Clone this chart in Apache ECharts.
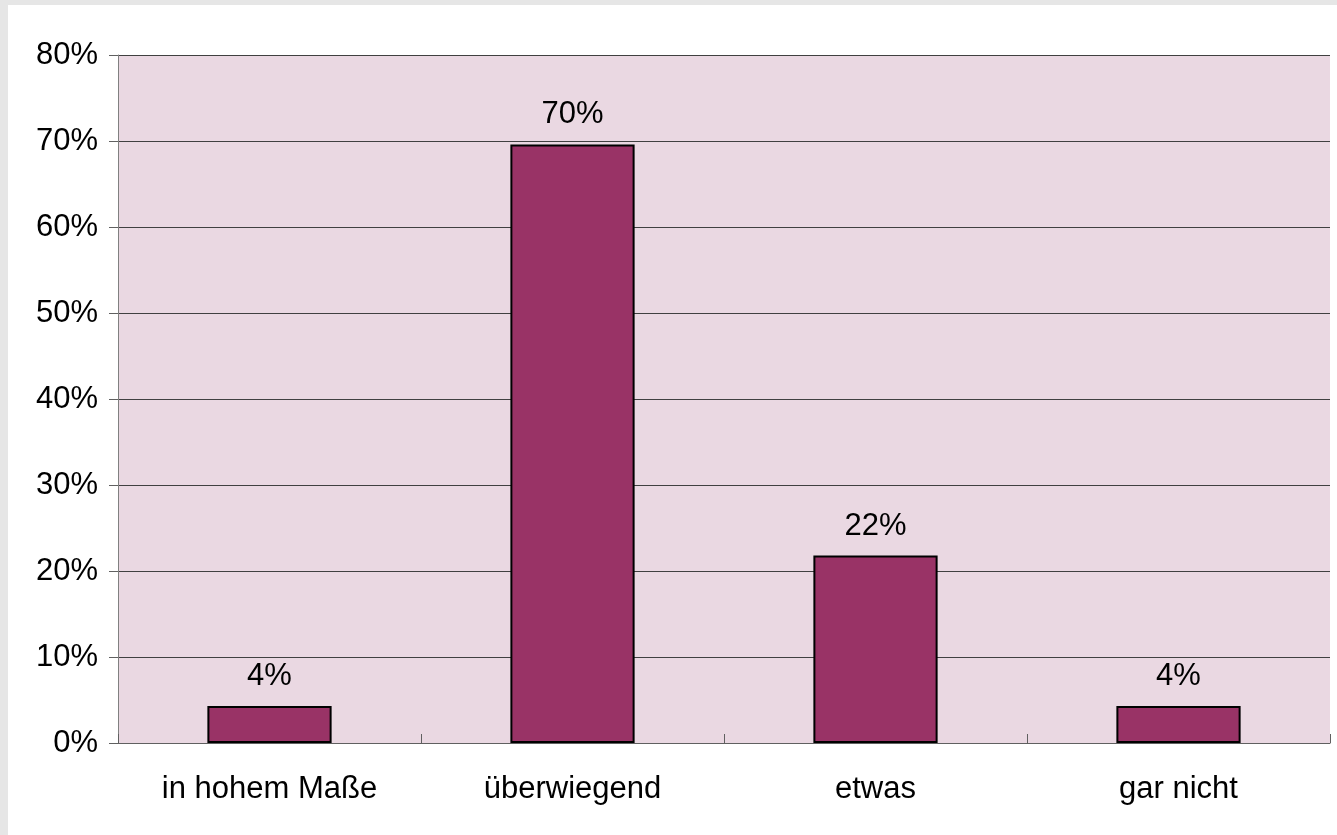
<!DOCTYPE html>
<html>
<head>
<meta charset="utf-8">
<script src="https://cdn.jsdelivr.net/npm/echarts@6/dist/echarts.min.js"></script>
<style>
html,body{margin:0;padding:0;background:#e6e6e6;width:1337px;height:835px;overflow:hidden;}
#chart{position:absolute;left:8px;top:5px;width:1329px;height:830px;background:#ffffff;}
</style>
</head>
<body>
<div id="chart"></div>
<script>
const categories = ['in hohem Maße', 'überwiegend', 'etwas', 'gar nicht'];
const values = [4.3, 69.6, 21.8, 4.3];
const yTicks = [0, 10, 20, 30, 40, 50, 60, 70, 80];

const FONT = '"Liberation Sans", Arial, sans-serif';
const chart = echarts.init(document.getElementById('chart'), null, {renderer: 'canvas'});
chart.setOption({
  animation: false,
  grid: {
    left: 110, top: 50, right: 7, bottom: 92,
    show: true, backgroundColor: '#ead8e2', borderWidth: 0
  },
  xAxis: {
    type: 'category',
    data: categories,
    axisLine: {show: true, lineStyle: {color: '#606060', width: 1}},
    axisTick: {show: true, inside: true, length: 9, alignWithLabel: false, lineStyle: {color: '#606060'}},
    axisLabel: {color: '#000', fontFamily: FONT, fontSize: 31, margin: 31},
    splitLine: {show: false}
  },
  yAxis: {
    type: 'value',
    min: yTicks[0],
    max: yTicks[yTicks.length - 1],
    interval: 10,
    axisLine: {show: true, lineStyle: {color: '#808080', width: 1}},
    axisTick: {show: true, length: 9, lineStyle: {color: '#606060'}},
    axisLabel: {color: '#000', fontFamily: FONT, fontSize: 31, margin: 20, formatter: v => v + '%'},
    splitLine: {show: true, lineStyle: {color: '#404040', width: 1}}
  },
  series: [{
    type: 'bar',
    data: values,
    barWidth: '41%',
    itemStyle: {color: '#993366', borderColor: '#000', borderWidth: 2},
    label: {
      show: true, position: 'top', distance: 14,
      color: '#000', fontFamily: FONT, fontSize: 31,
      formatter: p => Math.round(p.value) + '%'
    }
  }]
});
</script>
</body>
</html>
